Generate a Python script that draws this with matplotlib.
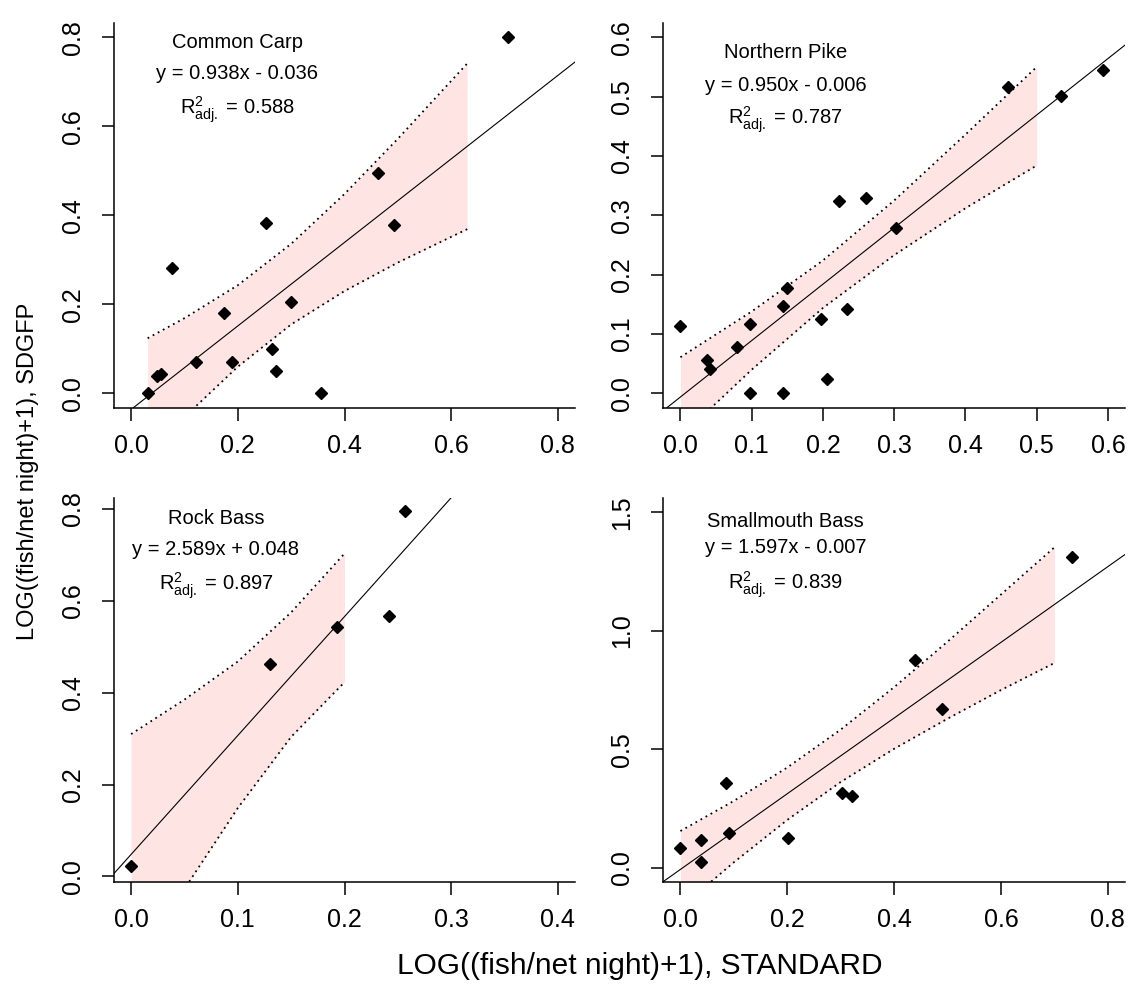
import numpy as np
import matplotlib
matplotlib.use("Agg")
import matplotlib.pyplot as plt

plt.rcParams['font.family'] = ['Liberation Sans', 'DejaVu Sans']
plt.rcParams['mathtext.fontset'] = 'custom'
plt.rcParams['mathtext.rm'] = 'Liberation Sans'
plt.rcParams['mathtext.it'] = 'Liberation Sans:italic'

# values
species = ['Common Carp', 'Northern Pike', 'Rock Bass', 'Smallmouth Bass']
equations = ['y = 0.938x - 0.036', 'y = 0.950x - 0.006',
             'y = 2.589x + 0.048', 'y = 1.597x - 0.007']
slopes = [0.938, 0.950, 2.589, 1.597]
intercepts = [-0.036, -0.006, 0.048, -0.007]
r2_adj = ['0.588', '0.787', '0.897', '0.839']

carp_x = [0.031, 0.048, 0.056, 0.077, 0.122, 0.174, 0.190, 0.253, 0.265, 0.272, 0.299, 0.356, 0.462, 0.492, 0.707]
carp_y = [0.002, 0.039, 0.043, 0.281, 0.071, 0.180, 0.071, 0.383, 0.100, 0.050, 0.205, 0.002, 0.495, 0.379, 0.800]

pike_x = [0.000, 0.038, 0.041, 0.079, 0.098, 0.098, 0.144, 0.144, 0.150, 0.197, 0.206, 0.222, 0.234, 0.261, 0.302, 0.460, 0.534, 0.593]
pike_y = [0.114, 0.057, 0.041, 0.079, 0.117, 0.000, 0.147, 0.000, 0.177, 0.125, 0.024, 0.324, 0.142, 0.330, 0.278, 0.517, 0.501, 0.544]

rock_x = [0.000, 0.130, 0.193, 0.242, 0.257]
rock_y = [0.022, 0.462, 0.543, 0.568, 0.796]

smb_x = [0.000, 0.039, 0.039, 0.085, 0.091, 0.201, 0.302, 0.321, 0.439, 0.490, 0.733]
smb_y = [0.084, 0.119, 0.023, 0.356, 0.147, 0.126, 0.315, 0.303, 0.877, 0.668, 1.311]

# confidence bands (upper / lower edge) read at a few x positions
carp_band_x = [0.031, 0.1, 0.2, 0.3, 0.4, 0.5, 0.63]
carp_band_hi = [0.124, 0.169, 0.243, 0.336, 0.448, 0.572, 0.741]
carp_band_lo = [-0.138, -0.053, 0.060, 0.155, 0.230, 0.294, 0.369]

pike_band_x = [0.0, 0.1, 0.2, 0.3, 0.4, 0.5]
pike_band_hi = [0.061, 0.138, 0.224, 0.325, 0.436, 0.550]
pike_band_lo = [-0.073, 0.040, 0.144, 0.233, 0.312, 0.384]

rock_band_x = [0.0, 0.05, 0.1, 0.15, 0.2]
rock_band_hi = [0.310, 0.385, 0.468, 0.575, 0.703]
rock_band_lo = [-0.214, -0.027, 0.149, 0.304, 0.423]

smb_band_x = [0.0, 0.1, 0.2, 0.3, 0.4, 0.5, 0.6, 0.7]
smb_band_hi = [0.155, 0.282, 0.423, 0.583, 0.762, 0.954, 1.153, 1.352]
smb_band_lo = [-0.169, 0.023, 0.202, 0.362, 0.502, 0.629, 0.750, 0.864]

points = [(carp_x, carp_y), (pike_x, pike_y), (rock_x, rock_y), (smb_x, smb_y)]
bands = [(carp_band_x, carp_band_lo, carp_band_hi),
         (pike_band_x, pike_band_lo, pike_band_hi),
         (rock_band_x, rock_band_lo, rock_band_hi),
         (smb_band_x, smb_band_lo, smb_band_hi)]

# axes layout (figure fractions) and limits
W, H = 1136, 993
rects = [[114 / W, 1 - 407.7 / H, 461 / W, 384.7 / H],
         [663.3 / W, 1 - 407.7 / H, 461.7 / W, 384.7 / H],
         [114 / W, 1 - 882 / H, 461 / W, 384 / H],
         [663.3 / W, 1 - 882 / H, 461.7 / W, 384 / H]]
xlims = [(-0.032, 0.832), (-0.024, 0.624), (-0.016, 0.416), (-0.032, 0.832)]
ylims = [(-0.032, 0.832), (-0.024, 0.624), (-0.012, 0.824), (-0.06, 1.56)]
xticks = [np.arange(0, 0.81, 0.2), np.arange(0, 0.61, 0.1), np.arange(0, 0.41, 0.1), np.arange(0, 0.81, 0.2)]
yticks = [np.arange(0, 0.81, 0.2), np.arange(0, 0.61, 0.1), np.arange(0, 0.81, 0.2), np.arange(0, 1.51, 0.5)]
text_pos = [(0.267, 0.949, 0.869, 0.774), (0.265, 0.924, 0.837, 0.748),
            (0.221, 0.947, 0.867, 0.771), (0.265, 0.938, 0.871, 0.775)]

fig = plt.figure(figsize=(W / 100, H / 100), dpi=100)

for i in range(4):
    ax = fig.add_axes(rects[i])
    bx, blo, bhi = bands[i]
    ax.fill_between(bx, blo, bhi, color='#FFE4E4', lw=0, zorder=1)
    ax.plot(bx, bhi, color='black', lw=1.3, ls=(0, (1, 2.2)), zorder=2)
    ax.plot(bx, blo, color='black', lw=1.3, ls=(0, (1, 2.2)), zorder=2)
    ax.axline((0, intercepts[i]), slope=slopes[i], color='black', lw=0.8, zorder=3)
    px, py = points[i]
    ax.plot(px, py, ls='none', marker='D', ms=6.3, color='black', zorder=4)

    ax.set_xlim(*xlims[i])
    ax.set_ylim(*ylims[i])
    ax.set_xticks(xticks[i])
    ax.set_yticks(yticks[i])
    ax.set_xticklabels(['%.1f' % v for v in xticks[i]])
    ax.set_yticklabels(['%.1f' % v for v in yticks[i]], rotation=90, va='center')
    for s in ['top', 'right']:
        ax.spines[s].set_visible(False)
    for s in ['left', 'bottom']:
        ax.spines[s].set_linewidth(1.1)
    ax.tick_params(direction='out', length=9, width=1.1, labelsize=18)
    ax.tick_params(axis='x', pad=10)
    ax.tick_params(axis='y', pad=12)

    tx, t1, t2, t3 = text_pos[i]
    ax.text(tx, t1, species[i], transform=ax.transAxes, ha='center', va='center', fontsize=14.5)
    ax.text(tx, t2, equations[i], transform=ax.transAxes, ha='center', va='center', fontsize=14.5)
    ax.text(tx, t3, r'$\mathregular{R^{2}_{adj.}}$ = ' + r2_adj[i], transform=ax.transAxes,
            ha='center', va='center', fontsize=14.5)

fig.text(640 / W, 1 - 966 / H, 'LOG((fish/net night)+1), STANDARD', ha='center', va='center', fontsize=21.5)
fig.text(28 / W, 1 - 471 / H, 'LOG((fish/net night)+1), SDGFP', ha='center', va='center',
         rotation=90, fontsize=17)

fig.savefig('out.png', dpi=100)
